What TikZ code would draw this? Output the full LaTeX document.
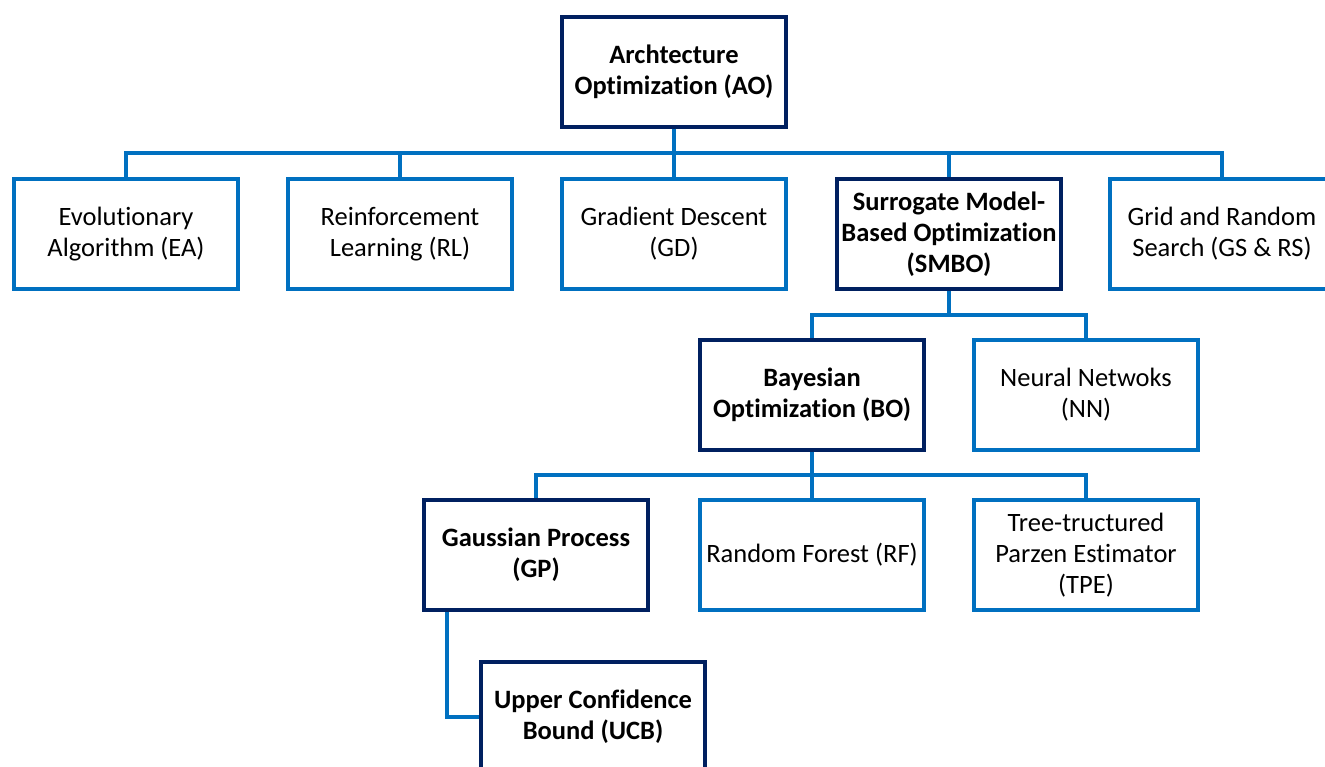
\documentclass[tikz,border=0pt]{standalone}
\usepackage{fontspec}
\setmainfont[Ligatures=NoCommon]{Carlito}
\definecolor{lblue}{HTML}{0070C0}
\definecolor{dblue}{HTML}{002060}
\begin{document}
\begin{tikzpicture}[x=1pt,y=-1pt,
  box/.style={draw=lblue, line width=4pt, minimum width=224pt, minimum height=110pt,
    align=center, inner sep=0pt, fill=white, font=\fontsize{26.5}{31}\selectfont},
  dbox/.style={box, draw=dblue, font=\fontsize{26.5}{31}\selectfont\bfseries},
  conn/.style={draw=lblue, line width=4pt, line join=miter}]
\useasboundingbox (0,0) rectangle (1325,767);
\clip (0,0) rectangle (1325,767);
\fill[white] (0,0) rectangle (1325,767);
% nodes
\node[dbox] (AO) at (674,72) {Archtecture\\Optimization (AO)};
\node[box] (EA) at (126,234) {Evolutionary\\Algorithm (EA)};
\node[box] (RL) at (400,234) {Reinforcement\\Learning (RL)};
\node[box] (GD) at (674,234) {Gradient Descent\\(GD)};
\node[dbox] (SMBO) at (949,234) {Surrogate Model-\\Based Optimization\\(SMBO)};
\node[box] (GS) at (1222,234) {Grid and Random\\Search (GS \& RS)};
\node[dbox] (BO) at (812,395) {Bayesian\\Optimization (BO)};
\node[box] (NN) at (1086,395) {Neural Netwoks\\(NN)};
\node[dbox] (GP) at (536,555) {Gaussian Process\\(GP)};
\node[box] (RF) at (812,555) {Random Forest (RF)};
\node[box] (TPE) at (1086,555) {Tree-tructured\\Parzen Estimator\\(TPE)};
\node[dbox] (UCB) at (593,717) {Upper Confidence\\Bound (UCB)};
% bus coordinates
\coordinate (b1) at (0,153);
\coordinate (b2) at (0,315);
\coordinate (b3) at (0,475);
\coordinate (c5) at (447,0);
% connectors
\foreach \c in {EA,RL,GD,SMBO,GS}
  \draw[conn] (AO.south) -- (AO.south |- b1) -| (\c.north);
\foreach \c in {BO,NN}
  \draw[conn] (SMBO.south) -- (SMBO.south |- b2) -| (\c.north);
\foreach \c in {GP,RF,TPE}
  \draw[conn] (BO.south) -- (BO.south |- b3) -| (\c.north);
\draw[conn] (GP.south -| c5) |- (UCB.west);
\end{tikzpicture}
\end{document}
